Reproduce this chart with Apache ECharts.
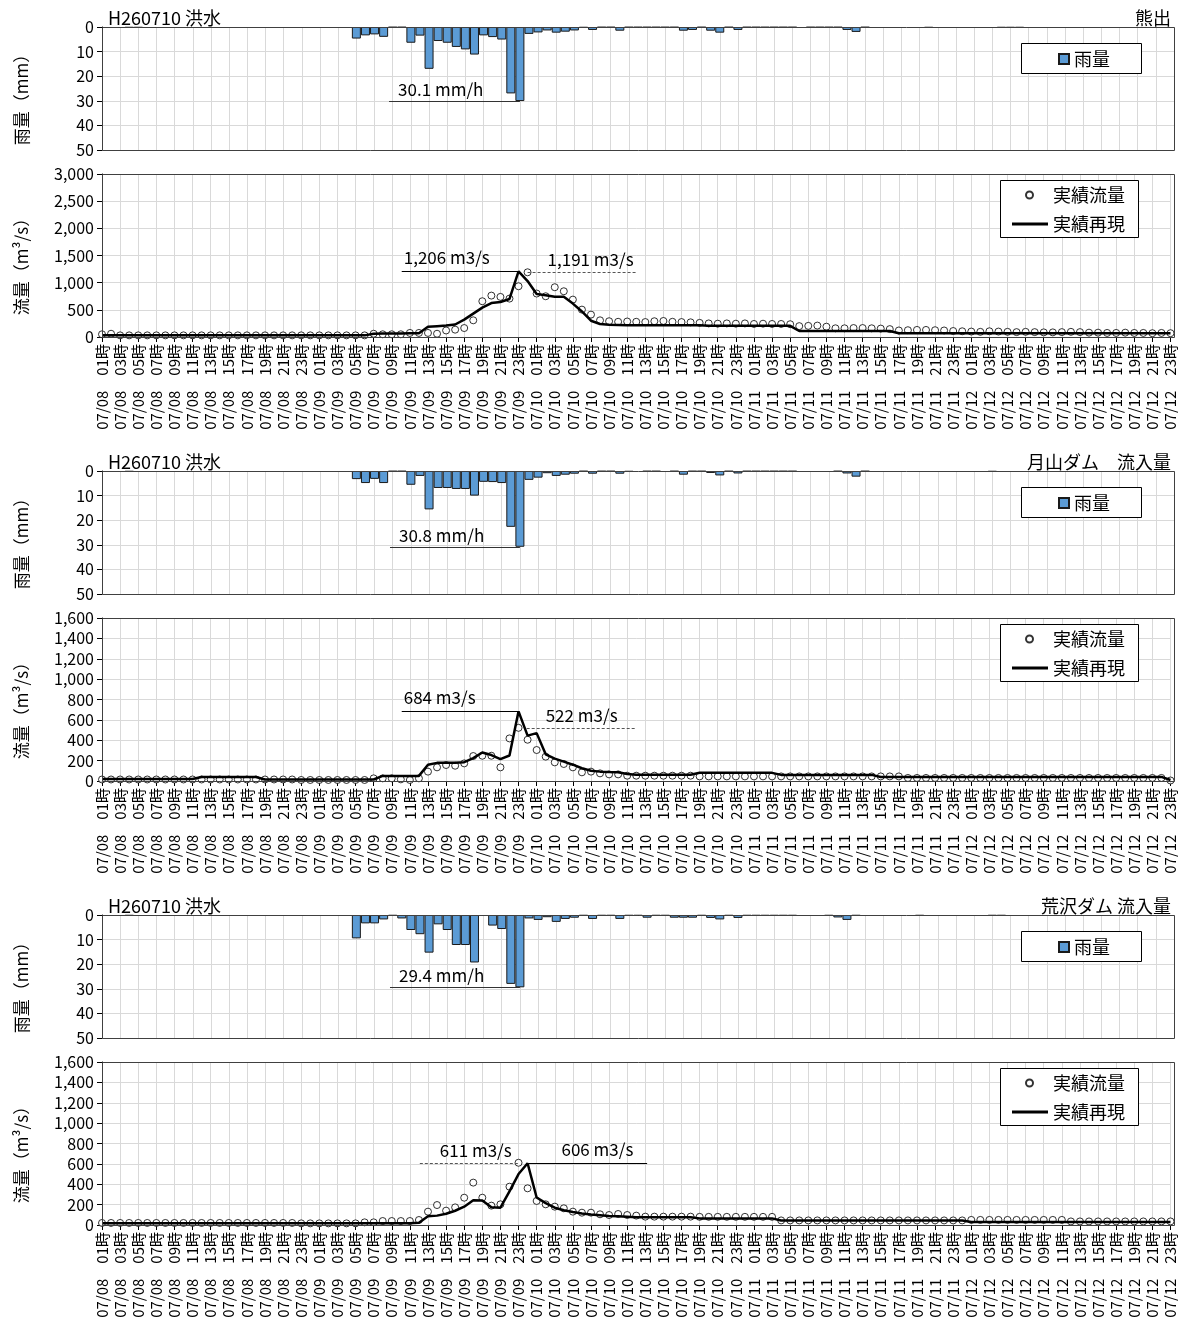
<!DOCTYPE html>
<html><head><meta charset="utf-8">
<script src="https://cdn.jsdelivr.net/npm/echarts@6/dist/echarts.min.js"></script>
<style>html,body{margin:0;padding:0;background:#fff}#c{width:1178px;height:1325px}</style>
</head><body><div id="c"></div>
<script>
// ---- tick labels ----
const days = ['07/08','07/09','07/10','07/11','07/12'];
const hourNames = ['00','01','02','03','04','05','06','07','08','09','10','11','12','13','14','15','16','17','18','19','20','21','22','23'];
const times = [];
for (let i = 0; i < 119; i++) { const t = i + 1; times.push(days[Math.floor(t / 24)] + '　' + hourNames[t % 24] + '時'); }

const eventName = 'H260710 洪水';
const stations = ['熊出', '月山ダム　流入量', '荒沢ダム 流入量'];

// ---- 熊出 ----
const rain1 = [
0,0,0,0.3,0.3,0,0,0,0,0,0,0,
0,0,0,0,0,0,0,0,0,0,0,0,
0,0,0,0,4.7,3.4,3.0,4.0,0.2,0.2,6.4,3.5,
17.0,5.7,6.4,8.1,9.1,11.2,3.4,4.1,5.1,27.0,30.1,2.8,
2.2,1.4,2.3,1.9,1.4,0.3,1.2,0.2,0.2,1.5,0.2,0.2,
0.2,0.2,0.2,0.2,1.5,1.2,0.2,1.5,2.3,0.2,1.2,0.2,
0.2,0.2,0.2,0.2,0.2,0,0.2,0.2,0.2,0.2,1.2,2.0,
0.2,0,0,0,0,0,0,0.3,0,0,0,0,
0,0,0,0.3,0.3,0.3,0,0,0,0,0,0,
0,0,0,0,0,0,0,0,0,0,0];
const obs1 = [
50,60,30,30,30,30,30,30,30,30,30,30,
30,30,30,30,30,30,30,30,30,30,30,30,
30,30,30,30,30,30,60,50,50,50,75,75,
75,60,120,135,165,307,658,762,738,707,934,1191,
800,750,916,842,688,504,412,307,290,280,285,280,
275,290,295,280,275,270,260,250,245,250,245,250,
240,245,240,240,235,200,205,210,190,160,160,165,
165,160,155,145,120,125,130,130,125,120,110,105,
100,95,105,100,95,90,95,90,85,85,90,95,
90,80,80,75,75,80,75,75,70,75,70];
const sim1 = [
30,30,30,30,30,30,30,30,30,30,30,30,
30,30,30,30,30,30,30,30,30,30,30,30,
30,30,30,30,30,30,60,65,65,65,70,70,
190,200,210,230,320,430,540,625,645,700,1206,1030,
790,770,740,740,615,470,300,240,225,220,215,215,
215,215,215,215,215,215,215,205,205,205,205,205,
205,205,205,205,205,110,110,110,110,110,110,110,
110,110,110,110,70,70,70,70,70,70,70,70,
70,70,70,70,70,70,70,70,70,70,70,70,
70,70,70,70,70,70,70,70,70,70,70];

// ---- 月山ダム 流入量 ----
const rain2 = [
0,0,0,0.3,0,0,0,0,0,0,0,0,
0,0,0,0,0,0,0,0,0,0,0,0,
0,0,0,0,3.3,4.9,3.2,4.9,0.2,0.2,5.6,2.0,
15.6,6.9,6.9,7.3,7.3,10.0,4.4,4.5,4.9,22.7,30.8,3.6,
2.7,0.9,2.0,1.5,1.1,0.2,1.1,0.2,0.2,1.1,0.3,0,
0.2,0.2,0,0.2,1.5,0.2,0.2,0.8,1.8,0.2,1.0,0.2,
0.2,0.2,0.2,0.2,0.2,0,0,0,0,0.2,1.0,2.3,
0.2,0,0,0,0,0,0,0,0,0,0,0,
0,0,0.3,0,0,0,0,0,0,0,0,0,
0,0,0,0,0,0,0,0,0,0,0];
const obs2 = [
15,15,15,15,15,15,15,15,15,15,15,15,
15,15,15,15,15,15,15,15,15,15,10,10,
10,10,10,10,10,10,26,26,26,16,10,26,
92,134,157,150,173,245,248,248,134,418,522,405,
304,239,183,167,134,85,92,75,65,65,52,52,
52,52,52,52,52,52,45,45,45,45,45,45,
45,45,45,45,45,45,45,45,45,45,45,45,
45,45,45,45,45,30,30,30,30,30,30,30,
30,30,30,30,30,30,30,30,30,30,30,30,
30,30,30,30,30,30,30,30,30,30,5];
const sim2 = [
20,20,20,20,20,20,20,20,20,20,20,40,
40,40,40,40,40,40,15,15,15,15,15,15,
15,15,15,15,15,15,15,50,50,50,50,50,
160,178,180,180,185,225,280,255,215,250,684,445,
470,262,220,190,160,125,100,92,88,85,68,62,
62,62,62,62,62,62,80,80,80,80,80,80,
80,80,80,60,60,60,60,60,60,60,60,60,
60,60,40,40,40,40,40,40,40,40,40,40,
40,40,40,40,40,40,40,40,40,40,40,40,
40,40,40,40,40,40,40,40,40,40,10];

// ---- 荒沢ダム 流入量 ----
const rain3 = [
0,0,0,0.3,0,0,0,0,0,0,0,0,
0,0,0,0,0,0,0,0,0,0,0,0,
0,0,0,0,9.5,3.4,3.4,1.8,0.3,1.4,6.1,7.8,
15.3,3.8,6.1,12.2,12.2,19.3,0,4.3,5.7,28.0,29.4,1.4,
2.0,0.9,2.8,1.6,1.1,0.3,1.6,0.3,0.3,1.6,0.3,0.3,
1.1,0.3,0.3,1.1,1.1,1.1,0.3,1.2,1.8,0.3,1.2,0.3,
0.3,0.3,0.3,0.3,0.3,0,0,0,0.3,1.0,2.0,0.3,
0,0,0,0,0,0,0.3,0,0,0,0,0,
0,0,0.3,0.3,0,0,0,0,0,0,0,0,
0,0,0,0,0,0,0,0,0,0,0];
const obs3 = [
20,20,20,20,20,20,20,20,20,20,20,20,
20,20,20,20,20,20,20,20,20,20,16,16,
16,16,16,16,16,26,26,39,39,39,39,49,
131,196,141,173,268,416,268,190,203,376,611,360,
236,203,180,164,131,121,121,105,98,108,98,92,
82,82,82,82,82,82,80,80,80,80,80,80,
80,80,80,45,45,45,45,45,45,45,45,45,
45,45,45,45,45,45,45,45,45,45,45,45,
50,50,50,50,50,50,50,50,50,50,50,35,
35,35,35,35,35,35,35,35,35,35,35];
const sim3 = [
16,16,16,16,16,16,16,16,16,16,16,16,
16,16,16,16,16,16,16,16,16,16,16,16,
16,16,16,16,16,16,16,16,16,16,16,23,
85,92,110,140,180,243,240,175,170,330,500,606,
270,215,170,145,128,112,102,95,88,85,80,75,
75,75,75,75,75,75,65,65,65,65,65,65,
65,65,65,45,45,45,45,45,45,45,45,45,
45,45,45,45,45,45,45,45,45,45,45,45,
30,30,30,30,30,30,30,30,30,30,30,30,
30,30,30,30,30,30,30,30,30,30,30];

// peak annotations
const rainPeak = [30.1, 30.8, 29.4];
const simPeak = [1206, 684, 606];
const obsPeak = [1191, 522, 611];

const rainSets = [rain1, rain2, rain3];
const obsSets = [obs1, obs2, obs3];
const simSets = [sim1, sim2, sim3];
const flowMax = [3000, 1600, 1600];
const flowStep = [500, 200, 200];

// ---- layout / style ----
const FONT = '"Noto Sans CJK JP","Noto Sans",sans-serif';
const DY = 444, L = 102, W = 1072;
const RT = 27, RH = 123, FT = 174, FH = 163;
const GRIDC = '#d9d9d9';
const fmt = v => v.toLocaleString('en-US');

// annotation layout: [startX, endX, labelDX]
const rainAnn = [[31.6, 46, 9], [31.7, 46, 9], [31.7, 46, 9]];
const simAnn = [[33.1, 46, 2], [33.1, 46, 2], [47.1, 60.2, 33]];
const obsAnn = [[47, 59, 20], [46.9, 59, 19], [35.1, 46, 20]];

const grids = [], xAxes = [], yAxes = [], series = [], legends = [], graphics = [];
for (let p = 0; p < 3; p++) {
  const dy = p * DY;
  const gr = 2 * p, gf = 2 * p + 1;
  grids.push({ left: L, width: W, top: RT + dy, height: RH });
  grids.push({ left: L, width: W, top: FT + dy, height: FH });

  xAxes.push({ gridIndex: gr, type: 'value', min: 0, max: 118, interval: 2, position: 'top',
    axisLine: { show: false }, axisTick: { show: false }, axisLabel: { show: false },
    splitLine: { show: true, lineStyle: { color: GRIDC, width: 1 } } });
  xAxes.push({ gridIndex: gf, type: 'value', min: 0, max: 118, interval: 2, position: 'bottom',
    axisLine: { show: true, onZero: false, lineStyle: { color: '#000', width: 1 } },
    axisTick: { show: true, inside: false, length: 5, lineStyle: { color: '#000' } },
    axisLabel: { show: true, rotate: 90, margin: 7, fontSize: 15, color: '#000', fontFamily: FONT,
      formatter: v => times[v] || '' },
    splitLine: { show: true, lineStyle: { color: GRIDC, width: 1 } } });

  yAxes.push({ gridIndex: gr, type: 'value', inverse: true, min: 0, max: 50, interval: 10,
    axisLine: { show: true, lineStyle: { color: '#000' } },
    axisTick: { show: true, length: 5, lineStyle: { color: '#000' } },
    axisLabel: { fontSize: 16, color: '#000', margin: 8, fontFamily: FONT },
    splitLine: { show: true, lineStyle: { color: GRIDC, width: 1 } },
    name: '雨量（mm）', nameLocation: 'middle', nameRotate: 90, nameGap: 72,
    nameTextStyle: { fontSize: 17, color: '#000', fontFamily: FONT, padding: [0, 14, 0, 0] } });
  yAxes.push({ gridIndex: gf, type: 'value', min: 0, max: flowMax[p], interval: flowStep[p],
    axisLine: { show: true, lineStyle: { color: '#000' } },
    axisTick: { show: true, length: 5, lineStyle: { color: '#000' } },
    axisLabel: { fontSize: 16, color: '#000', margin: 8, fontFamily: FONT, formatter: fmt },
    splitLine: { show: true, lineStyle: { color: GRIDC, width: 1 } },
    name: '流量（m³/s）', nameLocation: 'middle', nameRotate: 90, nameGap: 72,
    nameTextStyle: { fontSize: 17, color: '#000', fontFamily: FONT, padding: [0, 14, 0, 0] } });

  const lbl = (txt, dx, dist) => ({ show: true, formatter: txt, position: 'insideStartTop',
    distance: [dx, dist], color: '#000', fontSize: 17, fontFamily: FONT });

  series.push({ type: 'bar', name: '雨量', xAxisIndex: gr, yAxisIndex: gr, barWidth: 9,
    animation: false,
    itemStyle: { color: '#5b9bd5', borderColor: '#1a1a1a', borderWidth: 1 },
    data: rainSets[p].map((v, i) => (v > 0 ? [i, v] : null)).filter(d => d),
    markLine: { silent: true, symbol: 'none', animation: false,
      data: [[{ coord: [rainAnn[p][0], rainPeak[p]], lineStyle: { color: '#333', width: 1, type: 'solid' },
                label: lbl(rainPeak[p].toFixed(1) + ' mm/h', rainAnn[p][2], 3) },
              { coord: [rainAnn[p][1], rainPeak[p]] }]] } });

  series.push({ type: 'scatter', name: '実績流量', xAxisIndex: gf, yAxisIndex: gf,
    symbol: 'circle', symbolSize: 7, animation: false, z: 2,
    itemStyle: { color: '#fff', borderColor: '#000', borderWidth: 1 },
    data: obsSets[p].map((v, i) => [i, v]) });

  series.push({ type: 'line', name: '実績再現', xAxisIndex: gf, yAxisIndex: gf,
    showSymbol: false, symbol: 'none', animation: false, z: 3,
    lineStyle: { color: '#000', width: 2.5 }, itemStyle: { color: '#000' },
    data: simSets[p].map((v, i) => [i, v]),
    markLine: { silent: true, symbol: 'none', animation: false,
      data: [
        [{ coord: [simAnn[p][0], simPeak[p]], lineStyle: { color: '#000', width: 1, type: 'solid' },
           label: lbl(fmt(simPeak[p]) + ' m3/s', simAnn[p][2], 5) },
         { coord: [simAnn[p][1], simPeak[p]] }],
        [{ coord: [obsAnn[p][0], obsPeak[p]], lineStyle: { color: '#555', width: 1, type: [3, 2] },
           label: lbl(fmt(obsPeak[p]) + ' m3/s', obsAnn[p][2], 4) },
         { coord: [obsAnn[p][1], obsPeak[p]] }]
      ] } });

  legends.push({ data: ['雨量'], left: 1058, top: 50 + dy, padding: 0, itemWidth: 10, itemHeight: 10,
    icon: 'rect', selectedMode: false, z: 20,
    textStyle: { fontSize: 18, color: '#000', fontFamily: FONT } });
  legends.push({ data: [{ name: '実績流量', icon: 'circle' }],
    left: 1025, top: 186 + dy, padding: 0, itemWidth: 7, itemHeight: 7,
    selectedMode: false, z: 20,
    textStyle: { fontSize: 18, color: '#000', fontFamily: FONT, padding: [0, 0, 0, 15] } });
  legends.push({ data: [{ name: '実績再現', icon: 'rect', itemStyle: { color: '#000', borderWidth: 0 } }],
    left: 1012, top: 215 + dy, padding: 0, itemWidth: 36, itemHeight: 3,
    selectedMode: false, z: 20,
    textStyle: { fontSize: 18, color: '#000', fontFamily: FONT } });

  // legend boxes, frames, titles
  graphics.push({ type: 'rect', shape: { x: 1021.5, y: 43.5 + dy, width: 120, height: 30 },
    style: { fill: '#fff', stroke: '#000', lineWidth: 1 }, z: 10 });
  graphics.push({ type: 'rect', shape: { x: 1000.5, y: 180.5 + dy, width: 138, height: 57 },
    style: { fill: '#fff', stroke: '#000', lineWidth: 1 }, z: 10 });
  graphics.push({ type: 'rect', shape: { x: L + 0.5, y: RT + dy + 0.5, width: W, height: RH },
    style: { fill: 'none', stroke: '#404040', lineWidth: 1 }, z: 9, silent: true });
  graphics.push({ type: 'rect', shape: { x: L + 0.5, y: FT + dy + 0.5, width: W, height: FH },
    style: { fill: 'none', stroke: '#404040', lineWidth: 1 }, z: 9, silent: true });
  graphics.push({ type: 'text', x: 108, y: 27 + dy, z: 11,
    style: { text: eventName, fill: '#000', fontSize: 18, fontFamily: FONT, textVerticalAlign: 'bottom' } });
  graphics.push({ type: 'text', x: 1171, y: 27 + dy, z: 11,
    style: { text: stations[p], fill: '#000', fontSize: 18, fontFamily: FONT, textAlign: 'right', textVerticalAlign: 'bottom' } });
}

const chart = echarts.init(document.getElementById('c'));
chart.setOption({
  backgroundColor: '#fff', animation: false,
  grid: grids, xAxis: xAxes, yAxis: yAxes, series: series, legend: legends, graphic: graphics
});
</script></body></html>
